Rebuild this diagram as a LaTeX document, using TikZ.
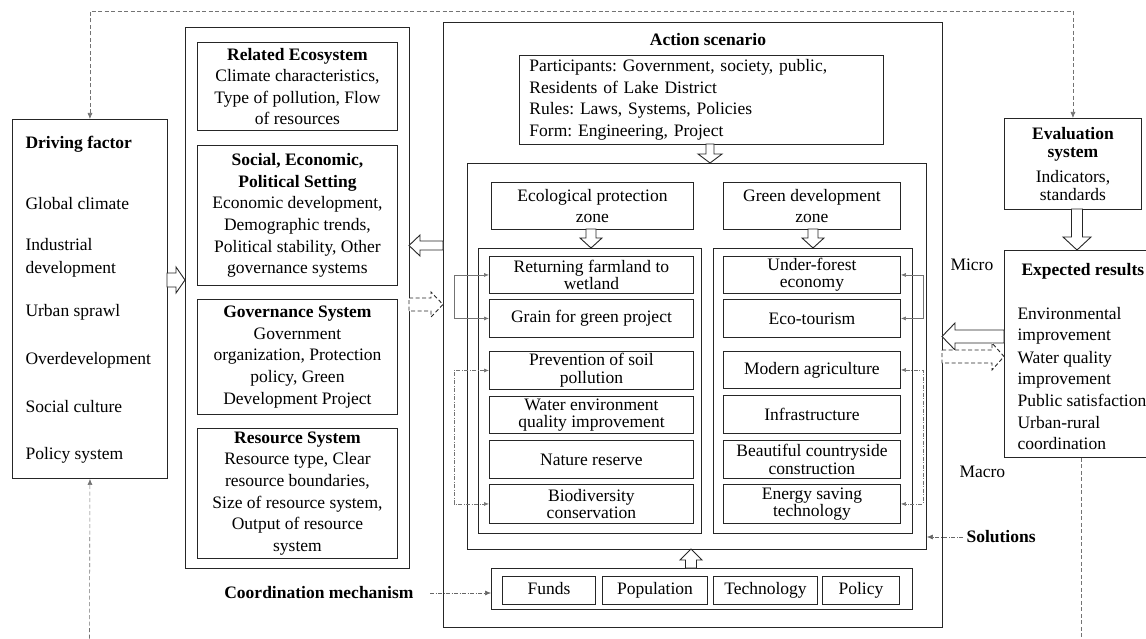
\documentclass[tikz,border=0pt]{standalone}
\usepackage{fontspec}
\setmainfont{Liberation Serif}
\usetikzlibrary{arrows.meta}
\newcommand{\fs}{\fontsize{17.5}{21.6}\selectfont}
\newcommand{\fst}{\fontsize{17.5}{17.5}\selectfont}
\frenchspacing
\begin{document}
\begin{tikzpicture}[x=1pt,y=-1pt,
 every node/.style={font=\fs},
 box/.style={draw=black!85, line width=0.9pt, inner sep=0pt, align=center, anchor=north west},
 tbox/.style={box, font=\fst},
 mbox/.style={box, text height=12pt, text depth=3.5pt},
 harrow/.style={draw=black!85, line width=0.9pt, fill=white, line join=miter},
 dharrow/.style={harrow, dash pattern=on 4pt off 2.5pt},
 fbline/.style={draw=black!55, line width=0.6pt, dash pattern=on 4pt off 2.5pt},
 fb/.style={fbline, -{Latex[length=6pt,width=5pt]}},
 fbb/.style={fbline, {Latex[length=6pt,width=5pt]}-{Latex[length=6pt,width=5pt]}},
 link/.style={draw=black!55, line width=0.6pt, {Latex[length=5pt,width=4pt]}-{Latex[length=5pt,width=4pt]}},
 dlink/.style={link, dash pattern=on 4pt off 1.5pt on 1pt off 1.5pt},
 dd/.style={draw=black!60, line width=0.6pt, dash pattern=on 4pt off 1.5pt on 1pt off 1.5pt, -{Latex[length=6pt,width=5pt]}},
 bold/.style={font=\fs\bfseries},
]
\useasboundingbox (0,0) rectangle (1146,639);
\clip (0,0) rectangle (1146,639);

% ---------- Driving factor ----------
\node[box, minimum width=155pt, minimum height=359pt] (drive) at (12,119) {};
\node[anchor=base west, bold] (dft) at (22,149) {Driving factor};
\foreach \yy/\lbl [count=\i] in {210/Global climate,251/Industrial,273/development,316/Urban sprawl,364/Overdevelopment,412/Social culture,459/Policy system}
  \node[anchor=base west] (df\i) at (22,\yy) {\lbl};

% ---------- System container ----------
\node[box, minimum width=224pt, minimum height=541pt] (sys) at (185,27) {};
\node[box, minimum width=200pt, minimum height=88pt] (eco) at (197,42)
  {\textbf{Related Ecosystem}\\Climate characteristics,\\Type of pollution, Flow\\of resources};
\node[box, minimum width=200pt, minimum height=140pt] (ses) at (197,145)
  {\textbf{Social, Economic,}\\\textbf{Political Setting}\\Economic development,\\Demographic trends,\\Political stability, Other\\governance systems};
\node[box, minimum width=200pt, minimum height=115pt] (gov) at (197,299)
  {\textbf{Governance System}\\Government\\organization, Protection\\policy, Green\\Development Project};
\node[box, minimum width=200pt, minimum height=130pt] (res) at (197,428)
  {\textbf{Resource System}\\Resource type, Clear\\resource boundaries,\\Size of resource system,\\Output of resource\\system};

% ---------- Action scenario ----------
\node[box, minimum width=499pt, minimum height=605pt] (act) at (443,22) {};
\node[bold] (actt) at (708,40) {Action scenario};
\node[box, minimum height=89pt, text width=344pt, inner xsep=10pt, align=left] (part) at (519,55)
  {Participants: Government, society, public,\\Residents of Lake District\\Rules: Laws, Systems, Policies\\Form: Engineering, Project};
\node[box, minimum width=459pt, minimum height=386pt] (zones) at (467,163) {};
\node[box, minimum width=202pt, minimum height=47pt] (epz) at (491,182) {Ecological protection\\zone};
\node[box, minimum width=177pt, minimum height=47pt] (gdz) at (723,182) {Green development\\zone};
\node[box, minimum width=223pt, minimum height=285pt] (lz) at (478,248) {};
\node[box, minimum width=199pt, minimum height=285pt] (rz) at (713,248) {};

\node[tbox, minimum width=204pt, minimum height=37pt] (ret) at (489,256) {Returning farmland to\\wetland};
\node[tbox, minimum width=204pt, minimum height=38pt] (grain) at (489,299) {Grain for green project};
\node[tbox, minimum width=204pt, minimum height=38pt] (soil) at (489,351) {Prevention of soil\\pollution};
\node[tbox, minimum width=204pt, minimum height=37pt] (water) at (489,396) {Water environment\\quality improvement};
\node[tbox, minimum width=204pt, minimum height=38pt] (nat) at (489,440) {Nature reserve};
\node[tbox, minimum width=204pt, minimum height=39pt] (bio) at (489,484) {Biodiversity\\conservation};

\node[tbox, minimum width=177pt, minimum height=37pt] (uf) at (723,256) {Under-forest\\economy};
\node[tbox, minimum width=177pt, minimum height=38pt] (ecot) at (723,299) {Eco-tourism};
\node[tbox, minimum width=177pt, minimum height=37pt] (agri) at (723,351) {Modern agriculture};
\node[tbox, minimum width=177pt, minimum height=38pt] (infra) at (723,395) {Infrastructure};
\node[tbox, minimum width=177pt, minimum height=38pt] (beau) at (723,440) {Beautiful countryside\\construction};
\node[tbox, minimum width=177pt, minimum height=39pt] (ener) at (723,484) {Energy saving\\technology};

\node[box, minimum width=421pt, minimum height=41pt] (mech) at (491,568) {};
\node[mbox, minimum width=93pt, minimum height=28pt] (funds) at (502,576) {Funds};
\node[mbox, minimum width=105pt, minimum height=28pt] (pop) at (602,576) {Population};
\node[mbox, minimum width=104pt, minimum height=28pt] (tech) at (713,576) {Technology};
\node[mbox, minimum width=77pt, minimum height=28pt] (pol) at (822,576) {Policy};

% ---------- Right side ----------
\node[box, font=\fst, minimum width=137pt, minimum height=91pt] (eval) at (1004,118)
  {\textbf{Evaluation}\\\textbf{system}\\[8pt]Indicators,\\standards};
\node[box, minimum width=154pt, minimum height=207pt] (exp) at (1004,250) {};
\node[anchor=base west, bold] (expt) at (1018,275) {Expected results};
\foreach \yy/\lbl [count=\i] in {319/Environmental,340/improvement,363/Water quality,384/improvement,406/Public satisfaction,428/Urban-rural,449/coordination}
  \node[anchor=base west] (er\i) at (1014,\yy) {\lbl};

\node[anchor=west] (micro) at (947,265) {Micro};
\node[anchor=west] (macro) at (956,472) {Macro};
\node[anchor=west, bold] (sol) at (963,537) {Solutions};
\node[anchor=east, bold] (coord) at (417,593) {Coordination mechanism};

% ---------- Hollow block arrows ----------
% driving -> system
\draw[harrow] (167,273) -- (176,273) -- (176,267) -- (185,280) -- (176,293) -- (176,287) -- (167,287) -- cycle;
% action -> system (left)
\draw[harrow] (443,241) -- (420,241) -- (420,235) -- (409,245.5) -- (420,256) -- (420,250) -- (443,250) -- cycle;
% system -> action (dashed)
\draw[dharrow] (409,298) -- (431,298) -- (431,292) -- (443,304.5) -- (431,317) -- (431,311) -- (409,311) -- cycle;
% participants -> zones
\draw[harrow] (706,144) -- (706,154) -- (698,154) -- (710,163) -- (722,154) -- (714,154) -- (714,144) -- cycle;
% zone headers -> zone lists
\draw[harrow] (586,229) -- (586,238) -- (580,238) -- (591,248) -- (602,238) -- (596,238) -- (596,229) -- cycle;
\draw[harrow] (808,229) -- (808,238) -- (802,238) -- (813,248) -- (824,238) -- (818,238) -- (818,229) -- cycle;
% mechanism -> zones (up)
\draw[harrow] (685.5,568) -- (685.5,560) -- (680,560) -- (691,549) -- (702,560) -- (696.5,560) -- (696.5,568) -- cycle;
% evaluation -> expected
\draw[harrow] (1071.5,209) -- (1071.5,237) -- (1063,237) -- (1077,250) -- (1091,237) -- (1082.5,237) -- (1082.5,209) -- cycle;
% expected -> action (solid, left)
\draw[harrow] (1004,330) -- (955,330) -- (955,323) -- (942,336.5) -- (955,350) -- (955,343) -- (1004,343) -- cycle;
% action -> expected (dashed, right)
\draw[dharrow] (942,350) -- (992,350) -- (992,343) -- (1004,356.5) -- (992,370) -- (992,363) -- (942,363) -- cycle;

% ---------- Thin connectors ----------
\draw[link] (ret.west) -- ++(-35,0) |- (grain.west);
\draw[dlink] (soil.west) -- ++(-35,0) |- (bio.west);
\draw[link] (uf.east) -- ++(22,0) |- (ecot.east);
\draw[dlink] (agri.east) -- ++(22,0) |- (ener.east);

\draw[dd] ([xshift=13pt]coord.east) -- (coord.east -| mech.west);
\draw[dd] (sol.west) -- (sol.west -| zones.east);

% ---------- Feedback loop ----------
\draw[fbb] (drive.north) -- (drive.north |- 0,11) -| (eval.north);
\coordinate (bl) at (89.5,645);
\coordinate (br) at (1081,645);
\draw[fb] (bl) -- (drive.south);
\draw[fbline] (exp.south -| br) -- (br);
\end{tikzpicture}
\end{document}
